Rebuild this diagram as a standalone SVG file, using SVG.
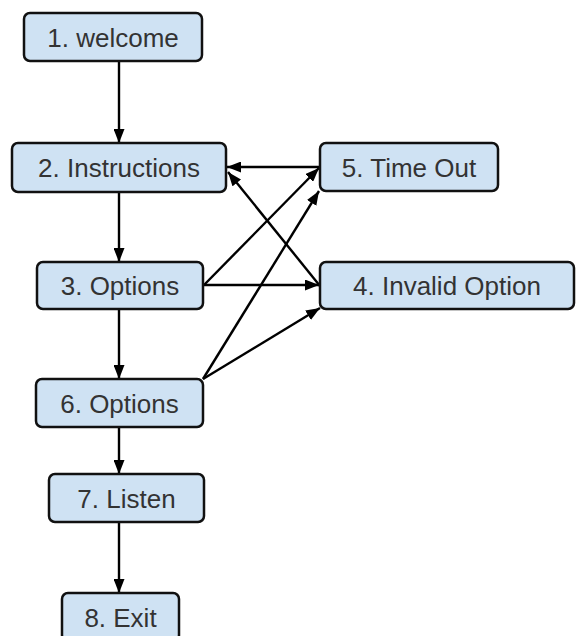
<svg xmlns="http://www.w3.org/2000/svg" width="576" height="636" viewBox="0 0 576 636">
  <style>
    .node rect { fill: #cfe2f3; stroke: #111; stroke-width: 2.5; }
    .node text { font-family: "Liberation Sans", Arial, sans-serif; font-size: 26px; fill: #333; text-anchor: middle; }
    .edges path { fill: none; stroke: #000; stroke-width: 2.4; marker-end: url(#arrow); }
  </style>
  <defs>
    <marker id="arrow" viewBox="0 0 14 11" refX="14" refY="5.5" markerWidth="14" markerHeight="11" markerUnits="userSpaceOnUse" orient="auto">
      <path d="M0 0 L14 5.5 L0 11 Z" fill="#000"/>
    </marker>
  </defs>
  <rect width="576" height="636" fill="#fff"/>

  <g class="edges">
    <path d="M119 61 L119 143"/>
    <path d="M119 192 L119 262"/>
    <path d="M119 309 L119 379"/>
    <path d="M119 427 L119 474"/>
    <path d="M119 522 L119 593"/>
    <path d="M320 167 L227 167"/>
    <path d="M320 286 L228 172"/>
    <path d="M204 285 L319 168"/>
    <path d="M204 285 L319 285"/>
    <path d="M203 379 L319 191"/>
    <path d="M203 379 L320 308"/>
  </g>

  <g id="n1" class="node">
    <rect x="24" y="13" width="178" height="48" rx="6"/>
    <text x="113" y="46.5">1. welcome</text>
  </g>
  <g id="n2" class="node">
    <rect x="12" y="143" width="214" height="49" rx="6"/>
    <text x="119" y="177">2. Instructions</text>
  </g>
  <g id="n5" class="node">
    <rect x="320" y="143" width="178" height="48" rx="6"/>
    <text x="409" y="176.5">5. Time Out</text>
  </g>
  <g id="n3" class="node">
    <rect x="37" y="262" width="166" height="47" rx="6"/>
    <text x="120" y="295">3. Options</text>
  </g>
  <g id="n4" class="node">
    <rect x="320" y="262" width="254" height="47" rx="6"/>
    <text x="447" y="295">4. Invalid Option</text>
  </g>
  <g id="n6" class="node">
    <rect x="36" y="379" width="167" height="48" rx="6"/>
    <text x="119.5" y="412.5">6. Options</text>
  </g>
  <g id="n7" class="node">
    <rect x="49" y="474" width="155" height="48" rx="6"/>
    <text x="126.5" y="507.5">7. Listen</text>
  </g>
  <g id="n8" class="node">
    <rect x="62" y="593" width="117" height="48" rx="6"/>
    <text x="120.5" y="626.5">8. Exit</text>
  </g>
</svg>
